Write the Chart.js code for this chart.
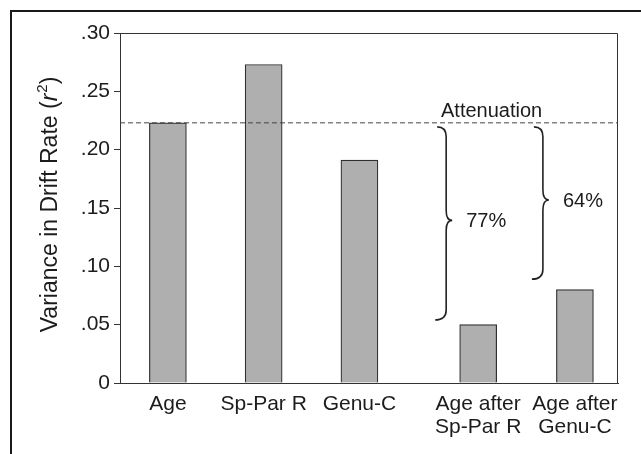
<!DOCTYPE html>
<html>
<head>
<meta charset="utf-8">
<script src="https://cdn.jsdelivr.net/npm/chart.js@4.4.1/dist/chart.umd.min.js"></script>
<style>
  html, body { margin: 0; padding: 0; background: #fff; }
  #wrap { width: 641px; height: 454px; }
</style>
</head>
<body>
<div id="wrap"><canvas id="chart"></canvas></div>
<script>
// bars
const categories = ['Age', 'Sp-Par R', 'Genu-C', ['Age after', 'Sp-Par R'], ['Age after', 'Genu-C']];
const positions = [0.5, 1.5, 2.5, 3.74, 4.75]; // Genu-C and the "after" bars have a wider gap
const values = [0.223, 0.273, 0.191, 0.050, 0.080];

// y ticks
const yTicks = [0, 0.05, 0.10, 0.15, 0.20, 0.25, 0.30];

// annotations
const attenuation = 0.223;
const braceBars = [3, 4];
const braceEnds = [0.054, 0.089];
const braceLabels = ['77%', '64%'];

const FONT = '"Liberation Sans", Arial, Helvetica, sans-serif';
const INK = '#1c1c1c';

function fmtTick(v) {
  if (v === 0) return '0';
  return '.' + String(Math.round(v * 100)).padStart(2, '0');
}

function drawBrace(ctx, x, y0, y1, tipY) {
  const r = 10;
  ctx.beginPath();
  ctx.moveTo(x - 9, y0);
  ctx.quadraticCurveTo(x, y0, x, y0 + r);
  ctx.lineTo(x, tipY - r);
  ctx.quadraticCurveTo(x, tipY, x + 6, tipY);
  ctx.quadraticCurveTo(x, tipY, x, tipY + r);
  ctx.lineTo(x, y1 - r);
  ctx.quadraticCurveTo(x, y1, x - 11, y1);
  ctx.stroke();
}

const extras = {
  id: 'extras',
  beforeDraw(chart) {
    const ctx = chart.ctx;
    ctx.save();
    ctx.fillStyle = '#fff';
    ctx.fillRect(0, 0, chart.width, chart.height);
    ctx.restore();
  },
  afterDraw(chart) {
    const ctx = chart.ctx;
    const a = chart.chartArea;
    const xs = chart.scales.x, ys = chart.scales.y;
    ctx.save();

    // outer frame (cut off at right and bottom)
    ctx.strokeStyle = '#1a1a1a';
    ctx.lineWidth = 2;
    ctx.strokeRect(11, 11, 900, 900);

    // plot box
    ctx.strokeStyle = '#333';
    ctx.lineWidth = 1;
    ctx.beginPath();
    ctx.moveTo(a.left, a.top + 0.5);
    ctx.lineTo(a.right - 0.5, a.top + 0.5);
    ctx.lineTo(a.right - 0.5, a.bottom);
    ctx.stroke();

    // attenuation line
    const yA = ys.getPixelForValue(attenuation);
    ctx.strokeStyle = '#444';
    ctx.setLineDash([5, 3]);
    ctx.beginPath();
    ctx.moveTo(a.left, yA);
    ctx.lineTo(a.right, yA);
    ctx.stroke();
    ctx.setLineDash([]);

    ctx.fillStyle = INK;
    ctx.font = '20px ' + FONT;
    ctx.textAlign = 'center';
    ctx.textBaseline = 'alphabetic';
    ctx.fillText('Attenuation', xs.getPixelForValue(3.88), yA - 6);

    // braces
    ctx.strokeStyle = '#222';
    ctx.lineWidth = 1.6;
    braceBars.forEach((b, i) => {
      const x = xs.getPixelForValue(positions[b]) - 32;
      const y0 = yA + 4;
      const y1 = ys.getPixelForValue(braceEnds[i]);
      const tipY = (y0 + y1) / 2 - 3;
      drawBrace(ctx, x, y0, y1, tipY);
      ctx.textAlign = 'left';
      ctx.textBaseline = 'middle';
      ctx.fillText(braceLabels[i], x + 20, tipY + 1);
    });

    // y axis title with italic r and superscript 2
    ctx.translate(51, (a.top + a.bottom) / 2 - 3);
    ctx.rotate(-Math.PI / 2);
    ctx.textBaseline = 'middle';
    ctx.textAlign = 'left';
    const parts = [
      { t: 'Variance in Drift Rate (', f: '23px ' + FONT, dy: 0 },
      { t: 'r', f: 'italic 23px ' + FONT, dy: 0 },
      { t: '2', f: '15px ' + FONT, dy: -8 },
      { t: ')', f: '23px ' + FONT, dy: 0 }
    ];
    let total = 0;
    parts.forEach(p => { ctx.font = p.f; p.w = ctx.measureText(p.t).width; total += p.w; });
    let cx = -total / 2;
    parts.forEach(p => {
      ctx.font = p.f;
      ctx.fillText(p.t, cx, p.dy);
      cx += p.w + (p.t === 'r' ? 1 : 0);
    });
    ctx.restore();
  }
};

new Chart(document.getElementById('chart'), {
  type: 'bar',
  data: {
    datasets: [{
      data: values.map((v, i) => ({ x: positions[i], y: v })),
      backgroundColor: '#afafaf',
      borderColor: '#2e2e2e',
      borderWidth: 1.2,
      barThickness: 37
    }]
  },
  options: {
    responsive: true,
    maintainAspectRatio: false,
    animation: false,
    layout: { padding: { top: 33, right: 23, left: 0, bottom: 0 } },
    plugins: { legend: { display: false }, tooltip: { enabled: false } },
    scales: {
      x: {
        type: 'linear',
        offset: false,
        min: 0,
        max: 5.2,
        grid: { display: false, drawTicks: false },
        border: { display: true, color: '#333', width: 1 },
        afterBuildTicks: s => { s.ticks = positions.map(p => ({ value: p })); },
        afterFit: s => { s.height = 71; },
        ticks: {
          autoSkip: false,
          maxRotation: 0,
          padding: 9,
          color: INK,
          font: { family: FONT, size: 21, lineHeight: 1.12 },
          callback: (v, i) => categories[i]
        }
      },
      y: {
        min: 0,
        max: 0.30,
        grid: { drawOnChartArea: false, drawTicks: true, tickLength: 6, color: '#333' },
        border: { display: true, color: '#333', width: 1 },
        afterBuildTicks: s => { s.ticks = yTicks.map(v => ({ value: v })); },
        afterFit: s => { s.width = 120; },
        ticks: {
          padding: 4,
          color: INK,
          font: { family: FONT, size: 21 },
          callback: v => fmtTick(v)
        }
      }
    }
  },
  plugins: [extras]
});
</script>
</body>
</html>
